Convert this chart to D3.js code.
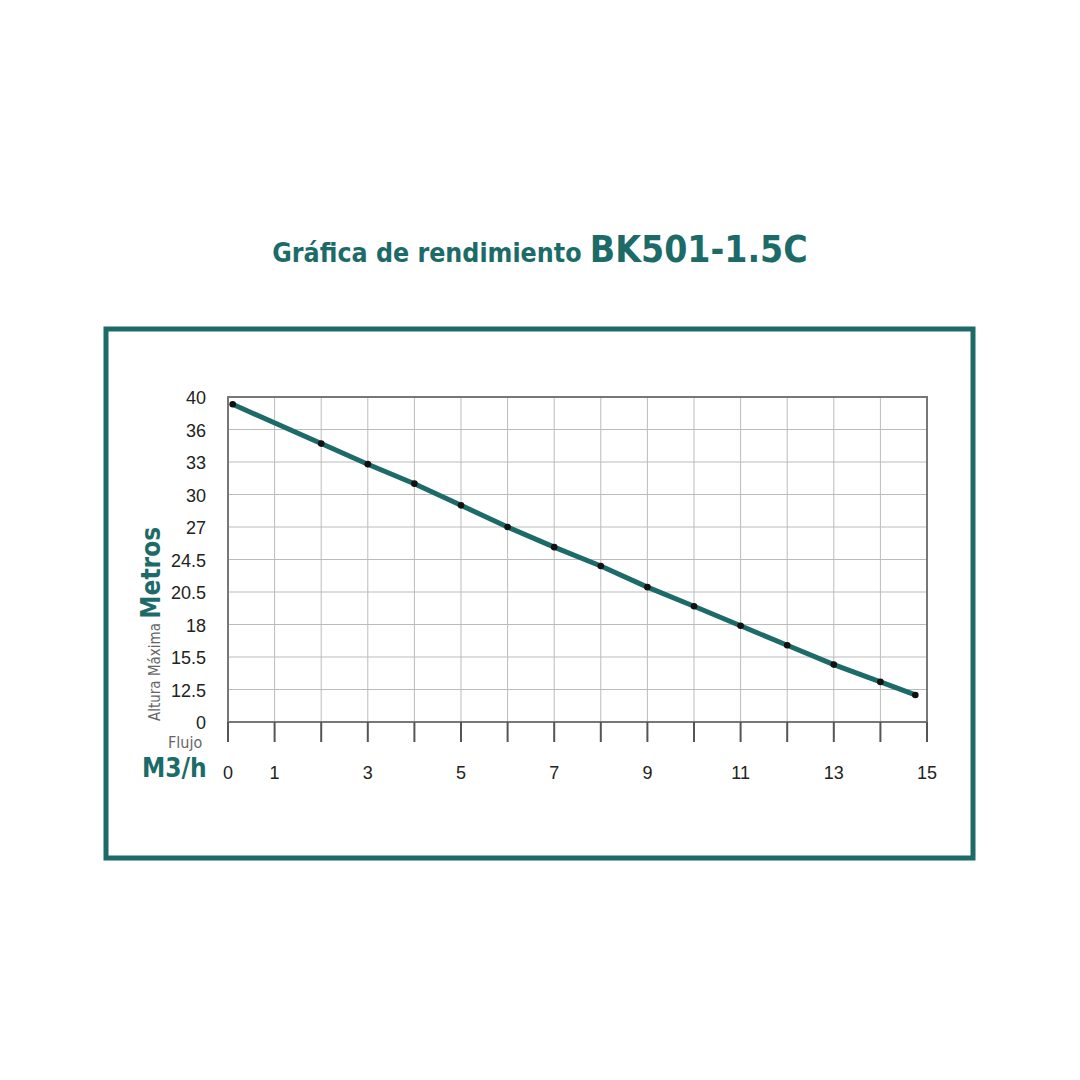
<!DOCTYPE html>
<html><head><meta charset="utf-8">
<script src="https://cdn.jsdelivr.net/npm/d3@7"></script>
<style>body{margin:0;background:#fff}</style></head>
<body><svg id="c" width="1080" height="1080"></svg>
<script>
const flow = [0.1,2,3,4,5,6,7,8,9,10,11,12,13,14,14.75];
const head = [39.1,34.7,32.8,31.0,29.0,27.0,25.45,23.7,21.1,19.4,17.9,16.4,14.8,13.2,10.4];
const yTicks = [0,12.5,15.5,18,20.5,24.5,27,30,33,36,40];
const xLabels = [0,1,3,5,7,9,11,13,15];
const title1 = "Gráfica de rendimiento ", title2 = "BK501-1.5C";

const teal = "#1d6b68";
const svg = d3.select("#c");
const L=228,R=927,T=397,B=722;
const x = d3.scaleLinear().domain([0,15]).range([L,R]);
const y = d3.scaleLinear().domain(yTicks).range(yTicks.map((d,i)=>B-(B-T)*i/(yTicks.length-1)));
const font = "'Liberation Sans Narrow','DejaVu Sans Condensed','Liberation Sans',sans-serif";

const t = svg.append("text").attr("x",540).attr("y",262).attr("text-anchor","middle")
  .attr("fill",teal).attr("font-family",font).attr("font-weight","bold");
t.append("tspan").attr("font-size",26.5).text(title1);
t.append("tspan").attr("font-size",37).text(title2);

svg.append("rect").attr("x",106).attr("y",329).attr("width",867).attr("height",529)
  .attr("fill","none").attr("stroke",teal).attr("stroke-width",5);

const g = svg.append("g");
g.selectAll(".vg").data(d3.range(0,16)).join("line")
  .attr("x1",d=>x(d)).attr("x2",d=>x(d)).attr("y1",T).attr("y2",B)
  .attr("stroke","#bbb").attr("stroke-width",1);
g.selectAll(".hg").data(yTicks).join("line")
  .attr("x1",L).attr("x2",R).attr("y1",d=>y(d)).attr("y2",d=>y(d))
  .attr("stroke","#bbb").attr("stroke-width",1);
g.append("rect").attr("x",L).attr("y",T).attr("width",R-L).attr("height",B-T)
  .attr("fill","none").attr("stroke","#777").attr("stroke-width",2);
g.selectAll(".xt").data(d3.range(0,16)).join("line")
  .attr("x1",d=>x(d)).attr("x2",d=>x(d)).attr("y1",B).attr("y2",B+20)
  .attr("stroke","#555").attr("stroke-width",2);
g.selectAll(".xl").data(xLabels).join("text")
  .attr("x",d=>x(d)).attr("y",779).attr("text-anchor","middle")
  .attr("font-family","'Liberation Sans',sans-serif").attr("font-size",18).attr("fill","#222").text(d=>d);
g.selectAll(".yl").data(yTicks).join("text")
  .attr("x",206).attr("y",d=>y(d)+7).attr("text-anchor","end")
  .attr("font-family","'Liberation Sans',sans-serif").attr("font-size",18).attr("fill","#222").text(d=>d);

g.append("path").datum(d3.zip(flow,head))
  .attr("d",d3.line().x(d=>x(d[0])).y(d=>y(d[1])))
  .attr("fill","none").attr("stroke",teal).attr("stroke-width",5).attr("stroke-linecap","round");
g.selectAll(".pt").data(d3.zip(flow,head)).join("circle")
  .attr("cx",d=>x(d[0])).attr("cy",d=>y(d[1])).attr("r",3.3).attr("fill","#111");

const yt = svg.append("text").attr("transform","translate(160,721) rotate(-90)")
  .attr("font-family",font);
yt.append("tspan").attr("font-size",15).attr("fill","#666").text("Altura Máxima ");
yt.append("tspan").attr("font-size",26).attr("font-weight","bold").attr("fill",teal).text("Metros");
svg.append("text").attr("x",168).attr("y",748).attr("font-family",font).attr("font-size",16).attr("fill","#666").text("Flujo");
svg.append("text").attr("x",142).attr("y",777).attr("font-family",font).attr("font-size",26).attr("font-weight","bold").attr("fill",teal).text("M3/h");
</script></body></html>
